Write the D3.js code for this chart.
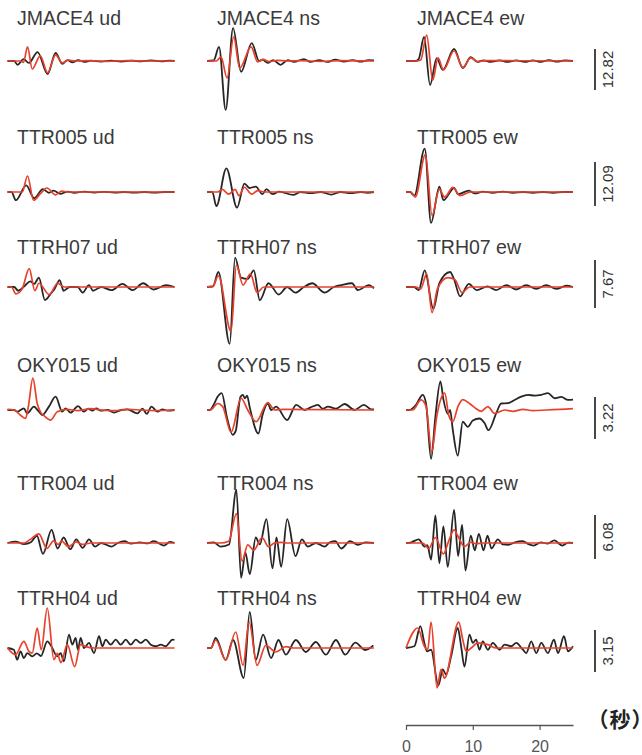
<!DOCTYPE html>
<html>
<head>
<meta charset="utf-8">
<script src="https://cdn.jsdelivr.net/npm/d3@7"></script>
<style>
  html, body { margin: 0; padding: 0; background: #fff; }
  svg { display: block; }
  .unit { font-feature-settings: "palt" 1; }
</style>
</head>
<body>
<svg id="chart" width="642" height="755"></svg>
<script>
// Stations (rows), components (columns) and amplitude scale bar values
const stations = ["JMACE4", "TTR005", "TTRH07", "OKY015", "TTR004", "TTRH04"];
const components = ["ud", "ns", "ew"];
const scaleValues = [12.82, 12.09, 7.67, 3.22, 6.08, 3.15];
const timeTicks = [0, 10, 20];
const timeUnit = ["（", "秒", "）"];

// Waveforms as [time (s), amplitude] pairs; obs = black, syn = red
const JMACE4_ud_obs = [[0,0],[1.0,0],[1.5,-1.2],[2.4,0.6],[3.2,-0.6],[4.5,2.8],[6.0,-4.1],[7.2,2.5],[8.2,-0.9],[9.0,0.3],[9.7,-0.4],[10.6,0.3],[11.5,-0.3],[12.5,0.1],[14,-0.2],[15.5,0.1],[17,-0.2],[18.5,0.1],[20,-0.1],[21.5,0.2],[23,-0.1],[24.3,0.1],[25,0]];
const JMACE4_ud_syn = [[0,0],[1.9,0],[2.4,-0.4],[3.0,4.4],[3.7,-2.5],[4.9,1.6],[6.0,-3.7],[7.2,1.9],[8.2,-0.6],[9.1,0.3],[10.1,0],[12,0.1],[15,-0.1],[18,0.1],[21,0],[25,0]];
const JMACE4_ns_obs = [[0,0],[1.0,0.2],[1.8,4.4],[2.8,-15.3],[3.9,10.3],[5.1,-3.4],[6.7,5.6],[7.8,0],[8.3,0.4],[9.1,-0.6],[9.9,0.3],[11.0,-1.2],[12.1,0.3],[13.0,-0.3],[14.5,0.6],[15.5,-0.3],[16.8,0.3],[18.0,-0.3],[19.2,0.4],[20.5,-0.2],[21.8,0.3],[23.0,-0.2],[24.2,0.3],[25,0.2]];
const JMACE4_ns_syn = [[0,0],[1.4,0],[2.1,1.3],[3.0,-5.3],[4.0,7.5],[4.9,-2.2],[6.6,4.4],[7.6,-0.3],[8.4,0.5],[9.3,-0.2],[10.5,0.2],[12,0],[14,0.1],[17,-0.1],[20,0.1],[25,0]];
const JMACE4_ew_obs = [[0,0],[1.4,0],[1.9,0.6],[2.7,7.5],[3.6,-7.5],[4.6,0.9],[5.5,-2.8],[7.2,3.75],[8.5,-2.2],[9.7,1.2],[10.7,-0.3],[11.6,0.2],[12.7,-0.3],[14,0.2],[15.2,-0.3],[16.5,0.2],[17.8,-0.3],[19,0.2],[20.2,-0.3],[21.4,0.3],[22.6,-0.2],[23.8,0.2],[25,0]];
const JMACE4_ew_syn = [[0,0],[1.6,0],[2.2,0.3],[3.1,8.1],[4.0,-6.0],[4.8,1.0],[5.6,-2.8],[7.2,3.2],[8.5,-2.0],[9.7,1.0],[10.7,-0.2],[12,0.1],[25,0]];

const TTR005_ud_obs = [[0,0],[0.6,0],[1.25,-2.25],[2.8,1.8],[4.0,-1.7],[5.3,0.8],[6.2,-0.2],[6.9,0.4],[7.9,-0.5],[9.0,0.1],[10,-0.2],[11.5,0.1],[13,-0.15],[14.5,0.05],[16,-0.15],[17.5,0],[19,-0.15],[20.5,0],[22,-0.15],[23.5,0],[25,0]];
const TTR005_ud_syn = [[0,0],[2.2,0],[3.0,4.4],[3.9,-2.25],[5.0,-0.3],[5.9,1.1],[7.2,-0.8],[8.1,0.25],[9,0],[25,0]];
const TTR005_ns_obs = [[0,0],[0.8,0],[1.4,-3.9],[2.9,6.5],[4.5,-4.3],[5.6,2.3],[6.4,1.1],[7.3,1.5],[8.3,-0.6],[8.9,0.8],[9.8,-0.6],[10.8,0.1],[12.9,-0.8],[14,0],[15.5,-0.3],[17,0],[18.6,-0.7],[20,0],[21.5,-0.3],[23,0],[24,-0.2],[25,0]];
const TTR005_ns_syn = [[0,0],[1.6,0],[2.3,0.7],[3.25,-0.6],[4.2,0.7],[4.8,-1.0],[5.6,1.3],[6.7,-0.6],[7.6,0.4],[8.6,0],[25,0]];
const TTR005_ew_obs = [[0,0],[0.6,0],[1.25,-1.0],[2.8,11.9],[3.75,-8.5],[5.0,1.5],[5.6,-2.25],[7.2,1.1],[7.8,-0.6],[9.4,0.4],[10.3,-0.4],[11.5,0.1],[13,-0.2],[14.5,0.1],[16,-0.2],[17.5,0],[19,-0.2],[20.5,0],[22,-0.2],[23.5,0],[25,0]];
const TTR005_ew_syn = [[0,0],[0.7,0],[1.4,-1.4],[2.9,10.3],[3.9,-6.4],[5.0,0.7],[5.8,-1.4],[7.0,1.25],[8.1,-1.0],[9.7,0],[25,0]];

const TTRH07_ud_obs = [[0,0],[1.0,0],[1.6,-0.6],[2.6,0.2],[3.4,0.9],[4.0,0.5],[4.7,1.5],[5.6,-2.1],[6.6,-0.9],[7.0,-0.4],[7.8,1.1],[8.4,-0.6],[9.3,0],[10.5,0],[11.25,-0.9],[12.2,0.3],[12.8,-0.6],[14,0],[15.6,-0.5],[17.2,0.5],[18.75,-0.5],[20.3,0.6],[21.9,-0.4],[23.75,0.3],[25,0]];
const TTRH07_ud_syn = [[0,0],[0.6,0],[1.25,-1.1],[2.2,-0.3],[3.25,2.95],[4.1,-0.6],[4.7,0.6],[6.25,-1.2],[7.5,0.6],[8.5,0],[25,0]];
const TTRH07_ns_obs = [[0,0],[0.9,0.1],[1.7,2.4],[3.4,-9.1],[4.2,4.7],[5.1,1.5],[6.1,1.3],[7.0,2.65],[7.9,-2.1],[9.2,0.6],[10.75,-1.2],[12,0],[13.25,-0.9],[14.5,0],[15.75,0.6],[17.6,-0.9],[19,0],[20.1,0.3],[21.7,0.6],[22.6,-0.5],[24.2,0.3],[25,-0.2]];
const TTRH07_ns_syn = [[0,0],[0.9,0.1],[1.7,1.8],[3.6,-7.1],[4.4,3.5],[5.4,0.3],[6.5,2.1],[7.5,-0.9],[8.5,0],[25,0]];
const TTRH07_ew_obs = [[0,0],[1.2,0],[1.9,-0.5],[2.8,2.65],[4.1,-3.5],[5.0,0.6],[6.6,2.4],[7.2,1.2],[8.1,-1.5],[9.4,0.5],[10.6,-0.5],[12.2,0.1],[13.5,-0.5],[15,0.3],[16.5,-0.4],[18,0.3],[19.5,-0.3],[21,0.3],[22.5,-0.3],[24,0.2],[25,0]];
const TTRH07_ew_syn = [[0,0],[1.5,0],[2.2,-0.3],[3.1,2.1],[3.9,-4.1],[4.7,-0.3],[6.25,1.5],[7.3,1.2],[8.4,-0.9],[9.5,0],[25,0]];

const OKY015_ud_obs = [[0,0],[1.0,0],[1.45,-0.13],[2.45,0.13],[2.95,-0.26],[3.95,0.26],[4.7,-0.13],[5.2,-0.39],[6.2,0.26],[7.2,1.03],[8.2,-0.13],[8.7,0.13],[9.45,-0.2],[10.55,0.3],[11.45,-0.13],[12.1,0.1],[12.7,-0.05],[13.3,0.13],[13.95,-0.05],[15,0],[15.95,-0.2],[17,0],[17.95,0.05],[19.45,-0.26],[20.2,0.1],[20.85,-0.3],[21.55,0.26],[22.45,-0.13],[23.2,0.05],[23.95,-0.05],[25,0]];
const OKY015_ud_syn = [[0,0.05],[1.0,0],[1.95,-0.4],[2.7,-0.65],[3.1,0.2],[3.8,2.45],[4.45,0.5],[5.0,-0.2],[5.5,-0.45],[6.45,-0.77],[7.45,-0.13],[8.95,0.05],[10.5,-0.05],[12.5,0.1],[14,0],[16,-0.05],[18,0.05],[20,0],[22,-0.05],[25,0]];
const OKY015_ns_obs = [[0,0],[0.4,0],[1.0,0.4],[1.6,1.03],[2.2,1.3],[3.0,-0.6],[3.85,-1.9],[4.3,-1.6],[5.0,1.0],[5.35,1.16],[5.7,0.9],[6.0,1.1],[6.4,0.2],[7.7,-1.8],[8.3,-0.4],[9.1,0.5],[9.6,0],[10.35,0.26],[12.0,-0.77],[13.35,0.4],[14.6,0],[15.5,0.2],[16.6,0.4],[17.3,0.1],[18.1,0.26],[19.3,0.1],[20.6,0.46],[22.1,0],[23.5,0.4],[24.6,0.05],[25,0.05]];
const OKY015_ns_syn = [[0,0],[0.5,0],[1.6,0.5],[2.35,0.26],[3.6,-1.7],[5.1,0.9],[6.1,0],[7.35,-0.9],[9.1,0.57],[10.1,0],[11.5,0.05],[25,0]];
const OKY015_ew_obs = [[0,0],[0.5,0],[1.5,0.4],[2.5,1.16],[3.0,0.5],[3.75,-3.74],[4.4,-0.5],[5.15,2.2],[5.6,0.8],[6.25,-0.3],[6.6,0],[7.0,-1.5],[7.75,-3.5],[8.5,-0.9],[9.25,-1.3],[10.0,-0.8],[11.0,-0.65],[11.75,-1.0],[12.35,-1.55],[13.5,-0.26],[14.25,0.5],[15.25,0.52],[16.25,0.77],[17.25,1.03],[18.25,1.16],[19.25,1.1],[20.25,1.16],[21.25,1.3],[22.25,0.9],[23.25,1.0],[24.25,0.77],[25,0.8]];
const OKY015_ew_syn = [[0,0],[1.0,0],[2.25,0.77],[3.0,0.3],[3.85,-3.2],[4.6,-0.5],[5.25,0.9],[5.8,1.3],[6.4,-0.4],[7.0,-0.9],[7.8,0.3],[8.5,0.8],[9.5,0.5],[10.5,0.1],[11.25,-0.1],[12.25,0.26],[13.25,-0.26],[14.75,0],[16,-0.1],[17.5,0.05],[19,-0.05],[21,0],[23,0.05],[25,0.1]];

const TTR004_ud_obs = [[0,0],[1.2,0.2],[2.5,-0.15],[3.5,0.1],[4.4,1.0],[5.3,-1.5],[6.6,1.8],[7.5,-0.76],[8.4,0.76],[9.4,-0.86],[10.3,0.5],[11.25,-0.66],[12.2,0.5],[13.1,-0.5],[14.0,0],[15.6,-0.5],[16.5,0],[17.5,0.25],[18.5,-0.1],[19.8,0.1],[21.0,-0.05],[21.9,0.25],[23.4,-0.35],[24.3,0.15],[25,0]];
const TTR004_ud_syn = [[0,0],[2.5,0],[3.4,0.5],[4.7,1.27],[5.9,-0.76],[6.9,0.3],[7.6,-0.2],[8.1,0.25],[9.1,-0.5],[10.3,0.15],[11.2,-0.2],[12.5,0],[25,0]];
const TTR004_ns_obs = [[0,0],[1.0,0.1],[2.0,-0.5],[3.3,-0.2],[4.4,7.35],[5.1,-4.8],[5.75,-1.3],[6.4,-4.3],[7.3,0.76],[7.9,-0.2],[8.9,3.3],[9.8,-3.5],[10.4,0.76],[11.1,-3.3],[12.0,3.3],[13.25,-1.8],[14.2,0.5],[15.1,-0.5],[16.3,0],[17.6,-0.5],[18.4,0.1],[19.2,0.25],[20.1,-0.76],[21.4,0.25],[22.6,-0.25],[23.8,0.1],[25,0]];
const TTR004_ns_syn = [[0,0],[2.0,0],[3.25,0.25],[4.4,4.05],[5.25,-2.5],[6.1,-0.25],[7.0,-1.0],[8.25,0.76],[9.2,-0.5],[10.1,0],[11,0.1],[12,0],[25,0]];
const TTR004_ew_obs = [[0,0],[0.8,0.1],[1.9,0.5],[2.8,-0.5],[3.2,-0.3],[3.75,-2.3],[4.4,3.8],[5.0,-2.8],[5.6,2.3],[6.25,-3.3],[7.2,4.56],[7.8,-1.8],[8.4,2.5],[8.9,-3.8],[9.7,1.0],[10.3,-1.0],[10.9,1.27],[11.6,-1.0],[12.2,1.0],[12.8,-0.76],[13.75,0.5],[14.5,-0.2],[15.3,-0.25],[16.3,0.1],[17.5,0.25],[18.2,-0.1],[19.1,-0.35],[20.2,0.1],[21.2,-0.1],[22.2,0.35],[23.4,-0.35],[24.3,0.05],[25,0]];
const TTR004_ew_syn = [[0,0],[2.5,0],[3.4,-0.76],[4.4,0.76],[5.6,-1.5],[6.4,0.3],[7.2,1.8],[7.8,0.9],[8.75,-0.5],[9.7,0.1],[10.5,-0.1],[11.5,0],[25,0]];

const TTRH04_ud_obs = [[0,0],[0.95,-0.13],[1.45,-0.88],[1.95,-0.25],[2.45,-0.76],[2.95,-0.38],[3.7,-0.63],[4.4,-0.4],[5.0,-0.6],[5.95,0.5],[6.6,0.1],[7.45,-0.63],[7.95,-0.38],[8.45,-1.0],[9.2,1.0],[9.7,0.25],[10.2,0.76],[10.55,-0.13],[10.95,0.76],[11.45,0],[12.2,0.38],[12.95,-0.38],[13.7,0.88],[14.2,0.13],[14.7,0.63],[15.45,0.25],[16.2,0.63],[16.95,0.25],[17.7,0.63],[18.45,0.25],[19.2,0.63],[19.95,0.38],[20.7,0.63],[21.45,0.25],[22.2,0.13],[22.95,0.25],[23.7,0.13],[24.2,0.38],[24.7,0.63],[25,0.6]];
const TTRH04_ud_syn = [[0,0],[1.2,-0.5],[2.45,0.5],[3.2,-0.25],[3.7,-0.38],[4.45,1.5],[5.05,-0.13],[5.95,3.0],[6.95,-0.88],[7.45,-0.4],[8.0,-1.1],[8.95,0.25],[10.05,-1.4],[10.95,0.25],[11.7,0.1],[13,0],[25,0]];
const TTRH04_ns_obs = [[0,0],[0.6,0],[1.3,0.75],[2.8,-0.9],[3.9,0.6],[5.5,-2.25],[6.4,2.7],[7.3,-0.9],[8.4,1.0],[9.6,-0.75],[10.7,0.6],[11.8,-0.5],[13.3,0.6],[14.8,-0.3],[16.3,0.45],[17.8,-0.5],[19.3,0.6],[20.7,-0.5],[22.2,0.4],[23.7,-0.15],[24.9,0.2]];
const TTRH04_ns_syn = [[0,0],[0.6,0],[1.3,0.6],[2.8,-0.9],[4.3,1.2],[5.4,-1.3],[6.3,1.95],[7.5,-1.3],[8.8,0.2],[10.3,-0.3],[11.8,0.1],[13,0],[25,0]];
const TTRH04_ew_obs = [[0,0],[1.25,0.13],[2.15,1.64],[2.75,0.38],[3.15,-0.25],[3.75,-0.13],[4.85,-2.8],[5.5,-1.6],[6.0,-2.0],[6.75,-0.63],[7.75,1.5],[8.25,0.13],[8.75,-1.4],[9.5,1.0],[10.0,0.38],[10.5,0.63],[11.0,-0.13],[11.5,0.5],[12.25,-0.13],[13.0,0.38],[14.0,-0.13],[14.75,0.25],[15.75,0.13],[16.5,0.38],[17.5,-0.13],[18.0,-0.38],[18.75,0.5],[19.5,-0.38],[20.25,0.38],[21.25,-0.38],[22.15,0.63],[22.75,-0.38],[23.65,0.88],[24.25,-0.25],[25,0.13]];
const TTRH04_ew_syn = [[0,0],[1.75,1.5],[2.75,0.13],[3.25,-0.13],[3.75,1.94],[4.65,-3.0],[5.25,-1.6],[5.75,-2.27],[7.9,1.94],[8.5,0.63],[9.0,-0.25],[9.75,0],[10.75,0.38],[12.25,0.25],[13.5,0],[25,0]];

const waveforms = {
  JMACE4: { ud: [JMACE4_ud_obs, JMACE4_ud_syn], ns: [JMACE4_ns_obs, JMACE4_ns_syn], ew: [JMACE4_ew_obs, JMACE4_ew_syn] },
  TTR005: { ud: [TTR005_ud_obs, TTR005_ud_syn], ns: [TTR005_ns_obs, TTR005_ns_syn], ew: [TTR005_ew_obs, TTR005_ew_syn] },
  TTRH07: { ud: [TTRH07_ud_obs, TTRH07_ud_syn], ns: [TTRH07_ns_obs, TTRH07_ns_syn], ew: [TTRH07_ew_obs, TTRH07_ew_syn] },
  OKY015: { ud: [OKY015_ud_obs, OKY015_ud_syn], ns: [OKY015_ns_obs, OKY015_ns_syn], ew: [OKY015_ew_obs, OKY015_ew_syn] },
  TTR004: { ud: [TTR004_ud_obs, TTR004_ud_syn], ns: [TTR004_ns_obs, TTR004_ns_syn], ew: [TTR004_ew_obs, TTR004_ew_syn] },
  TTRH04: { ud: [TTRH04_ud_obs, TTRH04_ud_syn], ns: [TTRH04_ns_obs, TTRH04_ns_syn], ew: [TTRH04_ew_obs, TTRH04_ew_syn] }
};

// ---- layout ----
const duration = 25;
const colLeft = [7.5, 207, 406];
const panelWidth = 167;
const titleX = [17, 217, 417];
const rowBase = [61, 192, 287, 410, 543, 648];
const titleY = [25, 144, 254, 372, 490, 605];
const barTop = [49, 162, 260, 397, 515, 630];
const barLen = [41, 44, 48, 42, 44, 42];
const barX = 595;
const axisY = 725;

const colors = { obs: "#262626", syn: "#e8412c" };
const fontFamily = "'Liberation Sans', Arial, Helvetica, sans-serif";

const svg = d3.select("#chart");

stations.forEach((st, r) => {
  // vertical scale: the scale bar length corresponds to scaleValues[r]
  const y = d3.scaleLinear()
    .domain([0, scaleValues[r]])
    .range([rowBase[r], rowBase[r] - barLen[r]]);

  components.forEach((comp, c) => {
    const x = d3.scaleLinear().domain([0, duration]).range([colLeft[c], colLeft[c] + panelWidth]);
    const line = d3.line().x(d => x(d[0])).y(d => y(d[1])).curve(d3.curveMonotoneX);
    const g = svg.append("g").attr("class", "panel");
    const [obs, syn] = waveforms[st][comp];

    g.append("path").datum(obs)
      .attr("d", line).attr("fill", "none")
      .attr("stroke", colors.obs).attr("stroke-width", 1.8)
      .attr("stroke-linejoin", "round");
    g.append("path").datum(syn)
      .attr("d", line).attr("fill", "none")
      .attr("stroke", colors.syn).attr("stroke-width", 1.7)
      .attr("stroke-linejoin", "round");

    g.append("text")
      .attr("x", titleX[c]).attr("y", titleY[r])
      .attr("font-family", fontFamily).attr("font-size", 19.5)
      .attr("fill", "#3a3a3a")
      .text(`${st} ${comp}`);
  });

  // amplitude scale bar and its value
  svg.append("line")
    .attr("x1", barX).attr("x2", barX)
    .attr("y1", barTop[r]).attr("y2", barTop[r] + barLen[r])
    .attr("stroke", "#333").attr("stroke-width", 1.8);
  const cy = barTop[r] + barLen[r] / 2;
  svg.append("text")
    .attr("transform", `translate(${barX + 18},${cy}) rotate(-90)`)
    .attr("text-anchor", "middle")
    .attr("font-family", fontFamily).attr("font-size", 15)
    .attr("fill", "#333")
    .text(scaleValues[r].toFixed(2));
});

// time axis under the right-hand column
const tScale = d3.scaleLinear().domain([0, duration]).range([colLeft[2], colLeft[2] + panelWidth]);
const axis = svg.append("g")
  .attr("transform", `translate(0,${axisY})`)
  .call(d3.axisBottom(tScale).tickValues(timeTicks).tickSize(5).tickSizeOuter(0));
axis.select(".domain").attr("stroke", "#555").attr("stroke-width", 1.5);
axis.selectAll(".tick line").attr("stroke", "#555").attr("stroke-width", 1.2);
axis.selectAll(".tick text")
  .attr("y", 16).attr("font-family", fontFamily).attr("font-size", 16)
  .attr("fill", "#555");

// unit label (seconds), proportional-width brackets keep it inside the frame
const unit = svg.append("text")
  .attr("class", "unit")
  .attr("x", 597).attr("y", 727)
  .attr("font-family", "'Noto Sans CJK JP', 'Noto Sans CJK SC', sans-serif")
  .attr("font-size", 21).attr("font-weight", 700)
  .attr("fill", "#222");
unit.selectAll("tspan").data(timeUnit).join("tspan")
  .attr("dx", (d, i) => i === 0 ? 0 : 2)
  .text(d => d);
</script>
</body>
</html>
